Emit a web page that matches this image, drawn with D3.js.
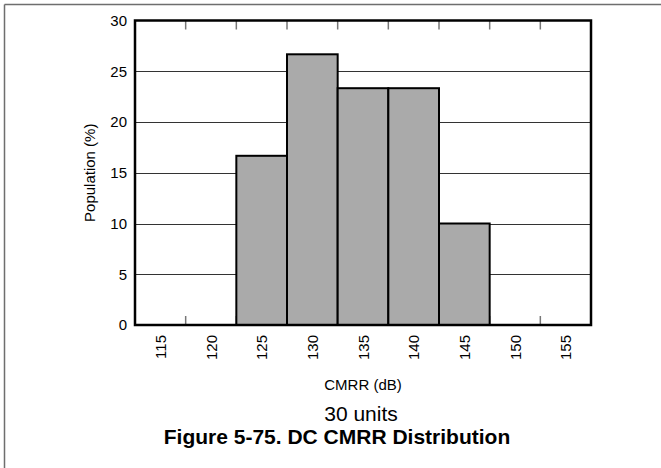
<!DOCTYPE html>
<html>
<head>
<meta charset="utf-8">
<script src="https://cdn.jsdelivr.net/npm/d3@7"></script>
<style>
  html, body { margin: 0; padding: 0; background: #fff; }
  svg { display: block; font-family: Arial, "Liberation Sans", sans-serif; }
</style>
</head>
<body>
<svg id="chart" width="661" height="468"></svg>
<script>
const categories = ["115", "120", "125", "130", "135", "140", "145", "150", "155"];
const population = [0, 0, 16.67, 26.67, 23.33, 23.33, 10, 0, 0];
const yTicks = [0, 5, 10, 15, 20, 25, 30];
const xTitle = "CMRR (dB)";
const yTitle = "Population (%)";
const note = "30 units";
const figTitle = "Figure 5-75. DC CMRR Distribution";

const svg = d3.select("#chart");
const L = 135, R = 591, T = 20.5, B = 325;

const x = d3.scaleBand().domain(categories).range([L, R]).padding(0);
const y = d3.scaleLinear().domain([0, 30]).range([B, T]);

// outer frame (top and left)
svg.append("line").attr("x1", 4.5).attr("x2", 661).attr("y1", 4.5).attr("y2", 4.5)
  .attr("stroke", "#6e6e6e").attr("stroke-width", 1.5);
svg.append("line").attr("x1", 4.5).attr("x2", 4.5).attr("y1", 4.5).attr("y2", 468)
  .attr("stroke", "#6e6e6e").attr("stroke-width", 1.5);

// gridlines
svg.append("g").selectAll("line").data(yTicks.filter(t => t > 0 && t < 30)).join("line")
  .attr("x1", L).attr("x2", R)
  .attr("y1", d => Math.round(y(d)) + 0.5).attr("y2", d => Math.round(y(d)) + 0.5)
  .attr("stroke", "#333").attr("stroke-width", 1);

// inner ticks at bin boundaries
const bounds = categories.slice(1).map(c => x(c));
svg.append("g").selectAll("line").data(bounds).join("line")
  .attr("x1", d => d).attr("x2", d => d).attr("y1", T).attr("y2", T + 9)
  .attr("stroke", "#777").attr("stroke-width", 1.5);
svg.append("g").selectAll("line").data(bounds).join("line")
  .attr("x1", d => d).attr("x2", d => d).attr("y1", B).attr("y2", B - 9)
  .attr("stroke", "#777").attr("stroke-width", 1.5);

// bars
svg.append("g").selectAll("rect").data(categories.map((c, i) => ({c, v: population[i]})).filter(d => d.v > 0))
  .join("rect")
  .attr("x", d => x(d.c)).attr("width", x.bandwidth())
  .attr("y", d => y(d.v)).attr("height", d => y(0) - y(d.v))
  .attr("fill", "#aaaaaa").attr("stroke", "#000").attr("stroke-width", 2);

// plot border
svg.append("rect").attr("x", L).attr("y", T).attr("width", R - L).attr("height", B - T)
  .attr("fill", "none").attr("stroke", "#000").attr("stroke-width", 2.5);

// y axis labels
const yAxis = d3.axisLeft(y).tickValues(yTicks).tickSize(0).tickPadding(8);
const gy = svg.append("g").attr("transform", `translate(${L},0)`).call(yAxis);
gy.select(".domain").remove();
gy.selectAll("text").attr("font-size", 15).attr("fill", "#000").attr("font-family", "Arial, 'Liberation Sans', sans-serif");

// x axis labels (rotated)
const gx = svg.append("g").attr("transform", `translate(0,${B})`)
  .call(d3.axisBottom(x).tickSize(0).tickPadding(0));
gx.select(".domain").remove();
gx.selectAll("text")
  .attr("font-size", 15).attr("fill", "#000").attr("font-family", "Arial, 'Liberation Sans', sans-serif")
  .attr("text-anchor", "end").attr("dy", null).attr("y", 0)
  .attr("dominant-baseline", "central")
  .attr("transform", "translate(0,10) rotate(-90)");

// axis titles
svg.append("text").attr("x", (L + R) / 2).attr("y", 390).attr("text-anchor", "middle")
  .attr("font-size", 15).text(xTitle);
svg.append("text").attr("transform", `translate(95,${(T + B) / 2}) rotate(-90)`)
  .attr("text-anchor", "middle").attr("font-size", 15).text(yTitle);

svg.append("text").attr("x", 361).attr("y", 421).attr("text-anchor", "middle")
  .attr("font-size", 21).text(note);
svg.append("text").attr("x", 337).attr("y", 444).attr("text-anchor", "middle")
  .attr("font-size", 21).attr("font-weight", "bold").text(figTitle);
</script>
</body>
</html>
